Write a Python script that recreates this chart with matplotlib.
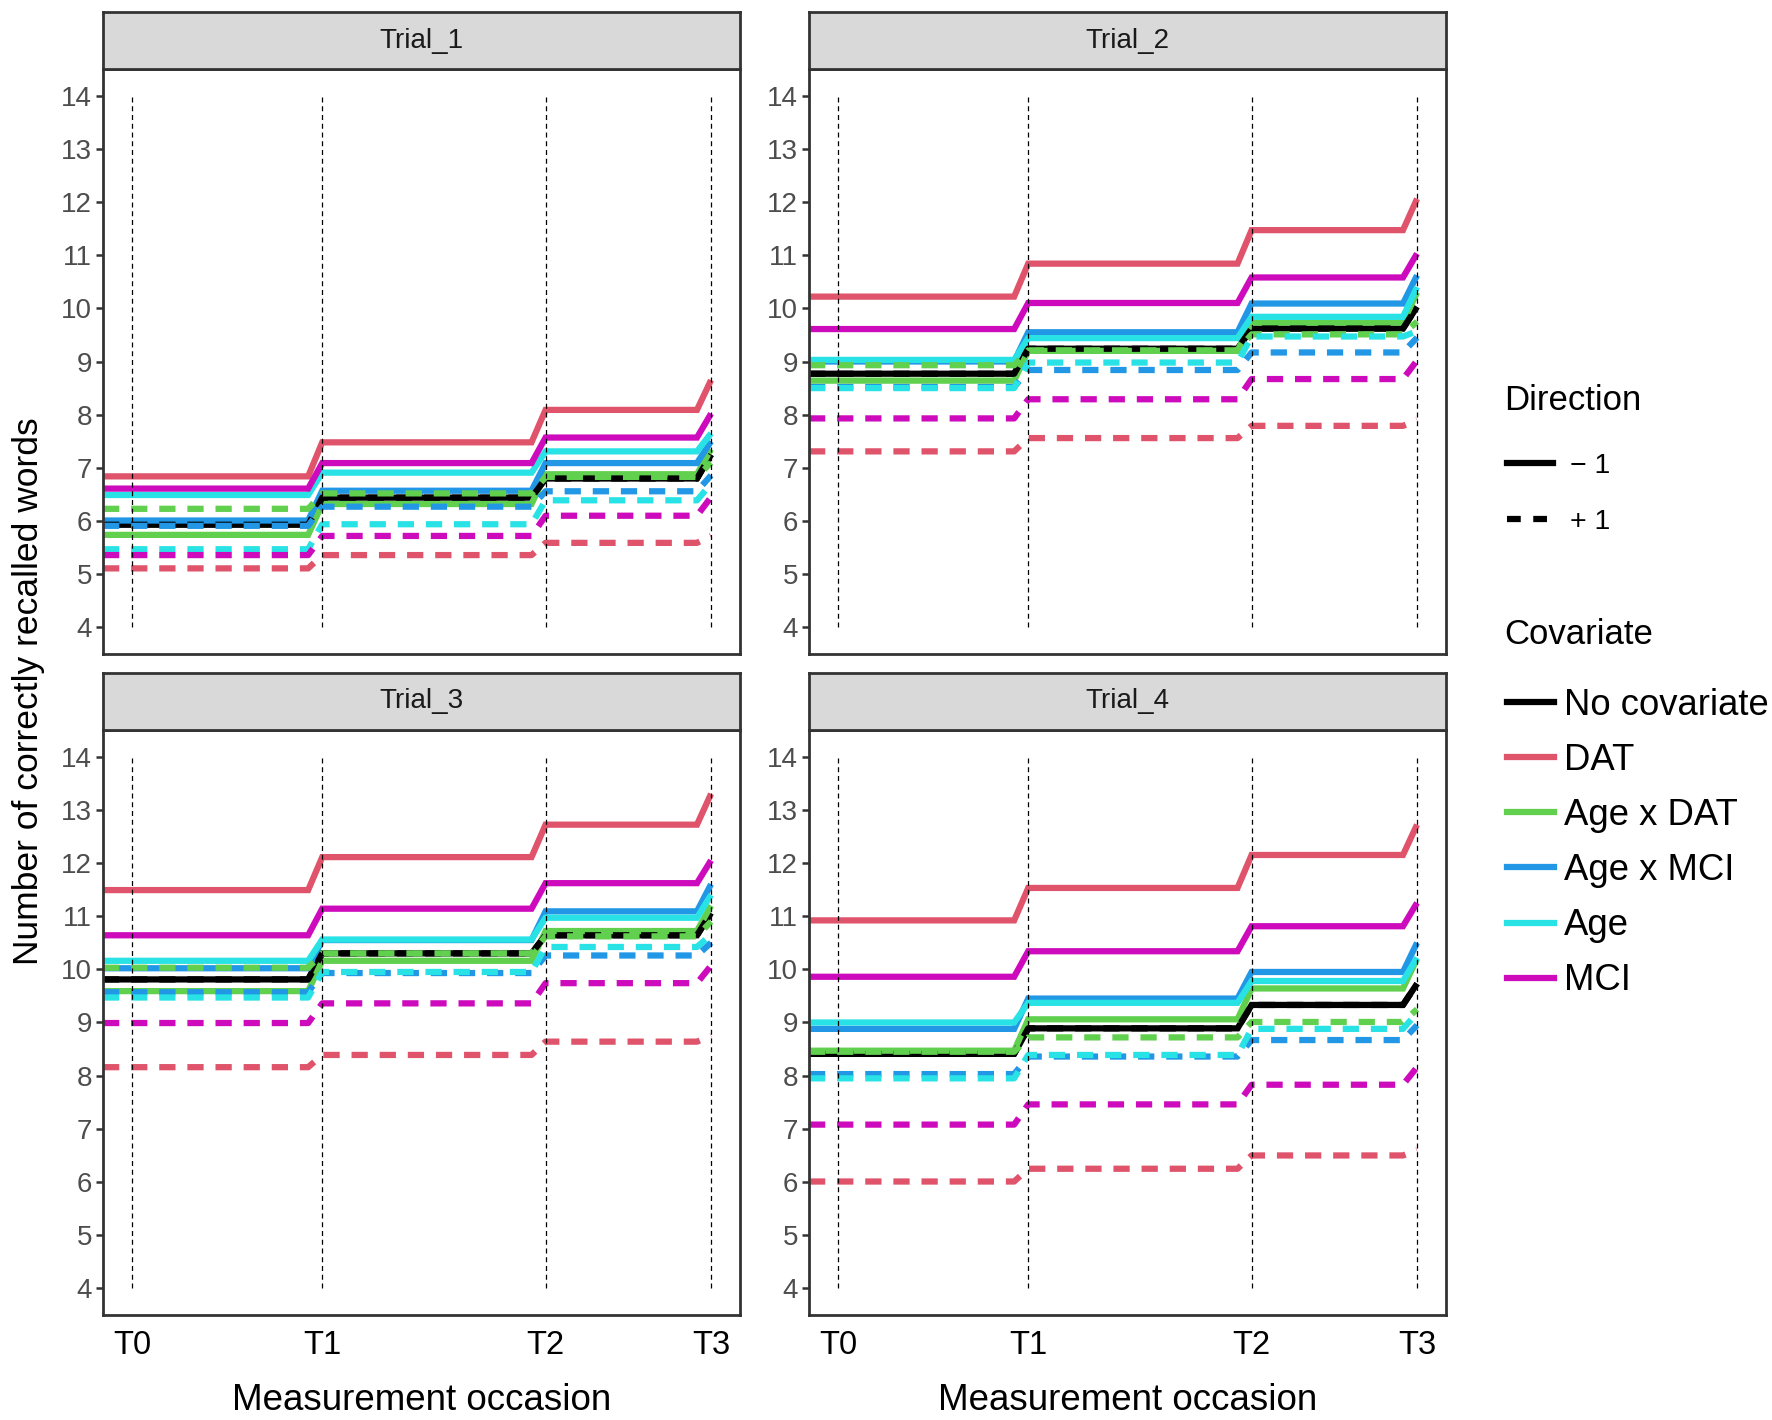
import matplotlib
matplotlib.use("Agg")
import matplotlib.pyplot as plt
from matplotlib.lines import Line2D

plt.rcParams['font.family'] = ['Liberation Sans', 'DejaVu Sans']

# measurement occasions (x positions) and labels
occasions = [0.0, 2.3, 5.0, 7.0]
occasion_labels = ['T0', 'T1', 'T2', 'T3']
trials = ['Trial_1', 'Trial_2', 'Trial_3', 'Trial_4']
covariates = ['No covariate', 'DAT', 'Age x DAT', 'Age x MCI', 'Age', 'MCI']
cov_colors = ['#000000', '#DF536B', '#61D04F', '#2297E6', '#28E2E5', '#CD0BBC']

# predicted values per covariate (rows) at T0..T3, direction -1 (solid)
trial1_minus = [[5.93, 6.44, 6.80, 7.25],
                [6.84, 7.48, 8.09, 8.65],
                [5.74, 6.32, 6.88, 7.35],
                [6.01, 6.57, 7.09, 7.50],
                [6.49, 6.91, 7.31, 7.65],
                [6.61, 7.09, 7.57, 8.02]]
trial2_minus = [[8.77, 9.24, 9.62, 10.03],
                [10.22, 10.84, 11.47, 12.06],
                [8.64, 9.20, 9.73, 10.30],
                [9.00, 9.55, 10.09, 10.62],
                [9.03, 9.44, 9.84, 10.40],
                [9.61, 10.10, 10.58, 11.03]]
trial3_minus = [[9.81, 10.30, 10.64, 11.06],
                [11.49, 12.11, 12.72, 13.30],
                [9.59, 10.16, 10.72, 11.20],
                [10.02, 10.55, 11.09, 11.60],
                [10.16, 10.56, 10.97, 11.40],
                [10.64, 11.14, 11.62, 12.05]]
trial4_minus = [[8.41, 8.89, 9.33, 9.73],
                [10.92, 11.53, 12.15, 12.72],
                [8.47, 9.06, 9.64, 10.20],
                [8.88, 9.45, 9.95, 10.50],
                [9.00, 9.37, 9.78, 10.22],
                [9.86, 10.34, 10.81, 11.25]]

# direction +1 (dashed)
trial1_plus = [[5.93, 6.44, 6.80, 7.25],
               [5.11, 5.36, 5.59, 5.72],
               [6.23, 6.52, 6.83, 7.10],
               [5.91, 6.27, 6.56, 6.86],
               [5.47, 5.94, 6.39, 6.70],
               [5.36, 5.72, 6.10, 6.45]]
trial2_plus = [[8.77, 9.24, 9.62, 10.03],
               [7.31, 7.56, 7.79, 7.90],
               [8.93, 9.21, 9.51, 9.75],
               [8.52, 8.84, 9.17, 9.45],
               [8.50, 8.98, 9.47, 9.57],
               [7.93, 8.29, 8.67, 9.02]]
trial3_plus = [[9.81, 10.30, 10.64, 11.06],
               [8.16, 8.39, 8.64, 8.75],
               [10.03, 10.30, 10.62, 10.90],
               [9.57, 9.93, 10.26, 10.50],
               [9.47, 9.95, 10.42, 10.65],
               [8.99, 9.36, 9.74, 10.07]]
trial4_plus = [[8.41, 8.89, 9.33, 9.73],
               [6.01, 6.25, 6.50, 6.60],
               [8.45, 8.72, 9.01, 9.25],
               [8.03, 8.36, 8.67, 8.95],
               [7.95, 8.39, 8.88, 9.18],
               [7.08, 7.46, 7.83, 8.16]]

minus_data = [trial1_minus, trial2_minus, trial3_minus, trial4_minus]
plus_data = [trial1_plus, trial2_plus, trial3_plus, trial4_plus]

xmin, xmax = -0.35, 7.35
ramp = 0.17
lw = 4.5
dash = (0, (2.6, 1.9))


def step_path(levels):
    xs = [xmin]
    ys = [levels[0]]
    for i in range(1, len(occasions)):
        xs += [occasions[i] - ramp, occasions[i]]
        ys += [levels[i - 1], levels[i]]
    return xs, ys


fig = plt.figure(figsize=(17.72, 14.2), dpi=100)

W, H = 1772.0, 1420.0
lefts = [103 / W, 809 / W]
bottoms = [1 - 654 / H, 1 - 1315 / H]
aw, ah = 637 / W, 585 / H
sh = 57 / H
edge = '#333333'

for k, trial in enumerate(trials):
    col = k % 2
    row = k // 2
    ax = fig.add_axes([lefts[col], bottoms[row], aw, ah])
    for data, ls in [(minus_data[k], '-'), (plus_data[k], dash)]:
        for c, levels in enumerate(data):
            xs, ys = step_path(levels)
            ax.plot(xs, ys, color=cov_colors[c], lw=lw, linestyle=ls,
                    dash_capstyle='butt', solid_capstyle='butt',
                    solid_joinstyle='miter', zorder=2)
    for t in occasions:
        ax.plot([t, t], [4, 14], color='black', lw=0.9,
                linestyle=(0, (4, 3)), zorder=3)
    ax.set_xlim(xmin, xmax)
    ax.set_ylim(3.5, 14.5)
    ax.set_yticks(range(4, 15))
    ax.set_xticks(occasions)
    ax.set_xticklabels(occasion_labels)
    ax.tick_params(axis='y', labelsize=20, labelcolor='#4D4D4D', color=edge,
                   length=5, width=1.8, pad=3)
    ax.tick_params(axis='x', labelsize=23.5, labelcolor='black', length=0, pad=11)
    for sp in ax.spines.values():
        sp.set_linewidth(2)
        sp.set_color(edge)
    if row == 0:
        ax.set_xticklabels([])
    else:
        ax.set_xlabel('Measurement occasion', fontsize=26.5, labelpad=16)

    sax = fig.add_axes([lefts[col], bottoms[row] + ah, aw, sh])
    sax.set_facecolor('#D9D9D9')
    sax.set_xticks([])
    sax.set_yticks([])
    for sp in sax.spines.values():
        sp.set_linewidth(2)
        sp.set_color(edge)
    sax.text(0.5, 0.5, trial, ha='center', va='center', fontsize=20,
             color='#1A1A1A', transform=sax.transAxes)

fig.text(29 / W, 0.513, 'Number of correctly recalled words', rotation=90,
         ha='center', va='center', fontsize=25.5)

# legend titles as separate text, entries via fig.legend
fig.text(0.8487, 1 - 400 / H, 'Direction', ha='left', va='center', fontsize=25)
fig.text(0.8487, 1 - 635 / H, 'Covariate', ha='left', va='center', fontsize=25)

dir_handles = [Line2D([], [], color='black', lw=lw, linestyle='-'),
               Line2D([], [], color='black', lw=lw, linestyle=(0, (2.2, 2.0)),
                      dash_capstyle='butt')]
fig.legend(dir_handles, ['\u2212 1', '+ 1'],
           loc='upper left', bbox_to_anchor=(0.8505, 1 - 453 / H),
           frameon=False, fontsize=20.5,
           handlelength=1.6, handletextpad=0.6, labelspacing=1.05,
           borderpad=0, borderaxespad=0)

cov_handles = [Line2D([], [], color=c, lw=lw) for c in cov_colors]
fig.legend(cov_handles, covariates,
           loc='upper left', bbox_to_anchor=(0.8505, 1 - 688 / H),
           frameon=False, fontsize=26.3,
           handlelength=1.28, handletextpad=0.28, labelspacing=0.55,
           borderpad=0, borderaxespad=0)

fig.savefig('out.png', dpi=100)
